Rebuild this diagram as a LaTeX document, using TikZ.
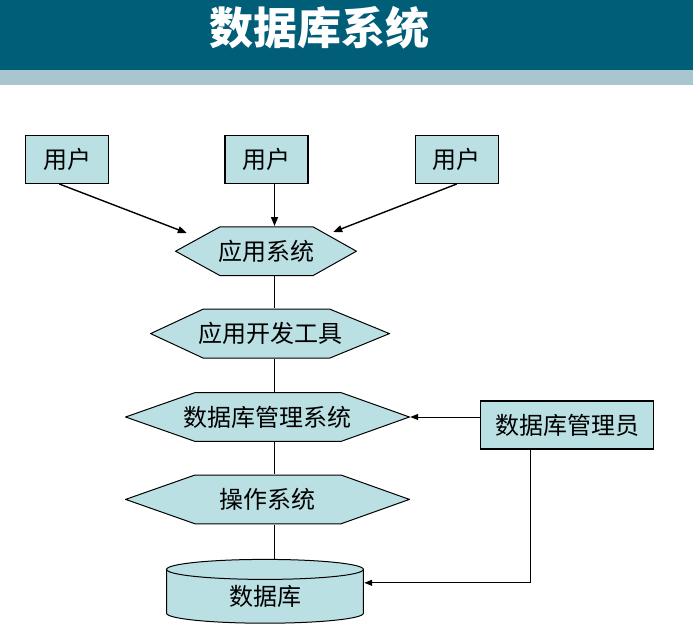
\documentclass[tikz,border=0pt]{standalone}
\usepackage{fontspec}
\usepackage{xcolor}
\usetikzlibrary{positioning, arrows.meta}
\newfontfamily\cjk{Noto Sans CJK SC}
\definecolor{barteal}{RGB}{0,94,120}
\definecolor{bandgrey}{RGB}{169,198,206}
\definecolor{boxfill}{RGB}{187,224,227}

\begin{document}
\begin{tikzpicture}[x=1pt, y=-1pt,
    font=\cjk\fontsize{24}{28}\selectfont,
    shapeline/.style={draw=black, line width=1pt, fill=boxfill},
    userbox/.style={draw=black, line width=1.2pt, fill=boxfill, minimum width=83pt, minimum height=48pt, inner sep=0pt},
    hexbox/.style n args={3}{minimum width=#1, minimum height=50pt, inner sep=0pt,
        path picture={\draw[shapeline]
            ([xshift=.6pt]path picture bounding box.west)
            -- ([xshift=#2, yshift=-.6pt]path picture bounding box.north west)
            -- ([xshift=-#3, yshift=-.6pt]path picture bounding box.north east)
            -- ([xshift=-.6pt]path picture bounding box.east)
            -- ([xshift=-#3, yshift=.6pt]path picture bounding box.south east)
            -- ([xshift=#2, yshift=.6pt]path picture bounding box.south west) -- cycle;}},
    dbdrum/.style={minimum width=198pt, minimum height=65pt, inner sep=0pt,
        path picture={
            \draw[shapeline] ([xshift=.6pt, yshift=-10.6pt]path picture bounding box.north west)
                -- ([xshift=.6pt, yshift=10.6pt]path picture bounding box.south west)
                arc[start angle=180, end angle=360, x radius=98.4pt, y radius=10pt]
                -- ([xshift=-.6pt, yshift=-10.6pt]path picture bounding box.north east)
                arc[start angle=0, end angle=180, x radius=98.4pt, y radius=10pt] -- cycle;
            \draw[shapeline, fill=none] ([xshift=.6pt, yshift=-10.6pt]path picture bounding box.north west)
                arc[start angle=180, end angle=360, x radius=98.4pt, y radius=10pt];}},
    link/.style={draw, line width=1pt},
    linkarrow/.style={link, -{Triangle[length=8pt, width=6pt]}},
    usrarrow/.style={draw, line width=1.4pt, -{Triangle[length=9pt, width=7pt]}}
]
    \useasboundingbox (0,0) rectangle (693,637);

    % Title bar
    \fill[barteal] (0,0) rectangle (693,70);
    \fill[bandgrey] (0,70) rectangle (693,85);
    \node[font=\cjk\bfseries\fontsize{44}{50}\selectfont, text=white] (title) at (319,28) {数据库系统};

    % Layer stack
    \node[hexbox={285pt}{70pt}{69pt}] (dbms) at (267.5,417) {数据库管理系统};
    \node[hexbox={240pt}{53pt}{60pt}, above=33pt of dbms, xshift=2.5pt] (devtool) {应用开发工具};
    \node[hexbox={182pt}{45pt}{44pt}, above=32pt of devtool, xshift=-4pt] (appsys) {应用系统};
    \node[hexbox={285pt}{70pt}{69pt}, below=32pt of dbms] (ossys) {操作系统};
    \node[dbdrum, below=34pt of ossys, xshift=-2.5pt] (db) {\raisebox{-5pt}[\height][\depth]{数据库}};

    % Users and administrator
    \node[userbox, above=42pt of appsys, xshift=0.5pt] (user2) {用户};
    \node[userbox, left=115pt of user2] (user1) {用户};
    \node[userbox, right=106pt of user2] (user3) {用户};
    \node[userbox, minimum width=173pt, right=70pt of dbms, yshift=-8pt] (dba) {数据库管理员};

    \coordinate (spine) at (274.5,0);

    % Connections
    \draw[usrarrow] ([xshift=-8pt]user1.south) -- ([xshift=12pt, yshift=-7pt]appsys.north west);
    \draw[usrarrow] (user2.south -| spine) -- (appsys.north -| spine);
    \draw[usrarrow] (user3.south) -- ([xshift=-24pt, yshift=-6pt]appsys.north east);
    \draw[link] (appsys.south -| spine) -- (devtool.north -| spine);
    \draw[link] (devtool.south -| spine) -- (dbms.north -| spine);
    \draw[link] (dbms.south -| spine) -- (ossys.north -| spine);
    \draw[link] (ossys.south -| spine) -- (db.north -| spine);
    \draw[linkarrow] (dba.west |- dbms.east) -- (dbms.east);
    \draw[linkarrow] ([xshift=-37pt]dba.south) |- ([yshift=8.5pt]db.east);

\end{tikzpicture}
\end{document}
